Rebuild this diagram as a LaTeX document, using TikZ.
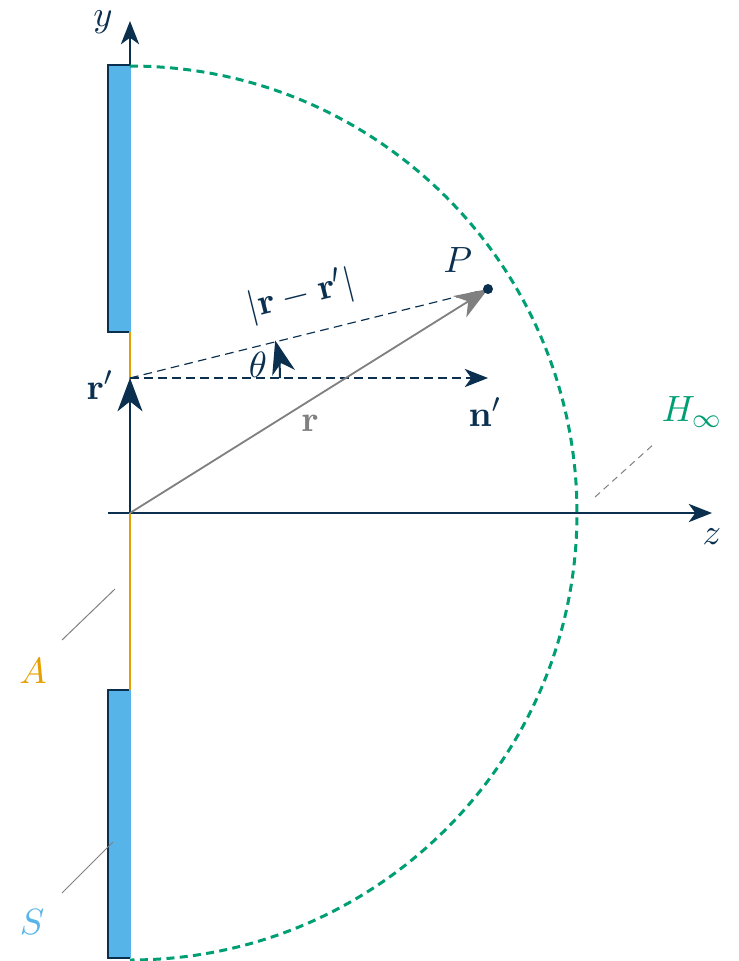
\documentclass[tikz,border=0pt]{standalone}
\usetikzlibrary{arrows.meta}
\definecolor{navy}{HTML}{0A2F4F}
\definecolor{skyb}{HTML}{56B4E9}
\definecolor{orng}{HTML}{E69F00}
\definecolor{grn}{HTML}{009E73}
\definecolor{gry}{HTML}{808080}
\begin{document}
\begin{tikzpicture}[x=0.3pt,y=-0.3pt,
  axisline/.style={navy, line width=0.45pt, -{Stealth[length=7pt,width=5.5pt,inset=2pt]}},
  bigvec/.style={line width=0.6pt, -{Stealth[length=10pt,width=7.5pt,inset=3pt]}},
  guide/.style={navy, line width=0.35pt, dash pattern=on 2.6pt off 1.6pt},
  leader/.style={gry, line width=0.3pt},
  screen/.style={fill=skyb, draw=none},
  lbl/.style={inner sep=0pt, navy, font=\fontsize{10.8}{13}\selectfont}]
\useasboundingbox (0,0) rectangle (739,961);
% points
\coordinate (O) at (130,513);
\coordinate (ytip) at (130,21);
\coordinate (zstart) at (108,513);
\coordinate (ztip) at (712,513);
\coordinate (rp) at (130,378);
\coordinate (P) at (488,289);
\coordinate (nt) at (488,378);
\coordinate (atop) at (130,332);
\coordinate (abot) at (130,690);
% axes
\draw[axisline] (O) -- (ytip);
\draw[axisline] (zstart) -- (ztip);
% aperture
\draw[orng, line width=0.7pt] (atop) -- (abot);
% screens
\fill[screen] (108,65) rectangle (131,332);
\draw[navy, line width=0.4pt] (130,65) -- (108,65) -- (108,332) -- (129,332);
\fill[screen] (108,690) rectangle (131,958);
\draw[navy, line width=0.4pt] (129,690) -- (108,690) -- (108,958) -- (130,958);
% hemisphere
\draw[grn, line width=0.9pt, dash pattern=on 2.4pt off 1.6pt] (130,66) arc[start angle=-90, end angle=90, radius=447];
% vectors
\draw[guide] (rp) -- (P);
\draw[guide, -{Stealth[length=7pt,width=5.5pt,inset=2pt]}] (rp) -- (nt);
\draw[bigvec, navy] (O) -- (rp);
\draw[bigvec, gry, line width=0.55pt] (O) -- (P);
\fill[navy] (P) circle[radius=5];
\draw[navy, line width=0.6pt, -{Stealth[length=10pt,width=7pt,inset=3pt]}] (280,378) arc[start angle=0, end angle=-14.5, radius=150];
% leaders
\draw[leader] (62,640) -- (115,589);
\draw[leader] (62,893) -- (113,842);
\draw[leader, dash pattern=on 2pt off 1.5pt] (595,497) -- (655,443);
% labels
\node[lbl] (ylab) at (103,22) {$y$};
\node[lbl] (zlab) at (712,537) {$z$};
\node[lbl] (rplab) at (100,385) {$\mathbf{r}'$};
\node[lbl] (nlab) at (485,412) {$\mathbf{n}'$};
\node[lbl] (Plab) at (458,260) {$P$};
\node[lbl, text=gry] (rlab) at (310,423) {$\mathbf{r}$};
\node[lbl] (thlab) at (258,365) {$\theta$};
\node[lbl, rotate=14] (dlab) at (301,296) {$|\mathbf{r}-\mathbf{r}'|$};
\node[lbl, text=grn] (Hlab) at (692,412) {$H_\infty$};
\node[lbl, text=orng] (Alab) at (33,671) {$A$};
\node[lbl, text=skyb] (Slab) at (32,922) {$S$};
\end{tikzpicture}
\end{document}
